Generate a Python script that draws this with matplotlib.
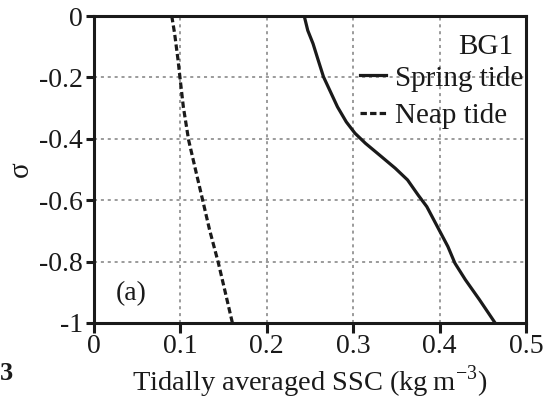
import matplotlib
matplotlib.use("Agg")
import matplotlib.pyplot as plt

spring_ssc = [0.2433, 0.2474, 0.2535, 0.2595, 0.2656, 0.2737, 0.2818, 0.2920, 0.3021, 0.3143, 0.3305,
              0.3487, 0.3629, 0.3751, 0.3852, 0.3974, 0.4096, 0.4177, 0.4298, 0.4461, 0.4643]
spring_sigma = [0.0, -0.047, -0.090, -0.144, -0.198, -0.247, -0.296, -0.345, -0.382, -0.415, -0.453,
                -0.496, -0.534, -0.583, -0.621, -0.686, -0.751, -0.805, -0.859, -0.924, -1.0]
neap_ssc = [0.090, 0.0933, 0.0973, 0.0994, 0.1034, 0.1095, 0.1176, 0.1257, 0.1338, 0.1440, 0.1521, 0.1602]
neap_sigma = [0.0, -0.057, -0.144, -0.198, -0.296, -0.404, -0.502, -0.599, -0.697, -0.805, -0.902, -1.0]
xticks = [0, 0.1, 0.2, 0.3, 0.4, 0.5]
xticklabels = ["0", "0.1", "0.2", "0.3", "0.4", "0.5"]
yticks = [0, -0.2, -0.4, -0.6, -0.8, -1]
yticklabels = ["0", "-0.2", "-0.4", "-0.6", "-0.8", "-1"]

plt.rcParams['font.family'] = ['Liberation Serif', 'DejaVu Serif']
ink = '#1a1a1a'
fig = plt.figure(figsize=(5.48, 3.99), dpi=100)
ax = fig.add_axes([94/548, 1-323/399, 432/548, 307/399])

ax.plot(spring_ssc, spring_sigma, color=ink, lw=2.3, ls='-', label='Spring tide')
ax.plot(neap_ssc, neap_sigma, color=ink, lw=2.3, ls=(0, (2.0, 1.0)), label='Neap tide')

ax.set_xlim(0, 0.5)
ax.set_ylim(-1, 0)
ax.set_xticks(xticks)
ax.set_xticklabels(xticklabels)
ax.set_yticks(yticks)
ax.set_yticklabels(yticklabels)
ax.grid(True, color='#808080', ls=(0, (2, 2.5)), lw=1.1)
for s in ax.spines.values():
    s.set_linewidth(2.2)
    s.set_color(ink)
ax.tick_params(axis='x', direction='out', length=7, width=2.2, labelsize=20, colors=ink, pad=1)
ax.tick_params(axis='y', direction='out', length=6, width=2.2, labelsize=20, colors=ink, pad=2)
ax.set_xlabel('Tidally averaged SSC (kg\u2009m$^{\\mathregular{-3}}$)', fontsize=20.5, labelpad=3, color=ink)
ax.set_ylabel('σ', fontsize=21, labelpad=4, color=ink)

ax.text(0.025, -0.905, '(a)', fontsize=20, ha='left', va='center', color=ink)
ax.text(0.485, -0.10, 'BG1', fontsize=21, ha='right', va='center', color=ink)
leg = ax.legend(loc='upper right', bbox_to_anchor=(0.993, 0.84), frameon=False, fontsize=21,
                handlelength=0.9, handletextpad=0.3, labelspacing=0.38, borderaxespad=0, borderpad=0)
for t in leg.get_texts():
    t.set_color(ink)

fig.text(0.0, 0.065, '3', fontsize=19, fontweight='bold', ha='left', va='center', color=ink)

fig.savefig('out.png', dpi=100)
